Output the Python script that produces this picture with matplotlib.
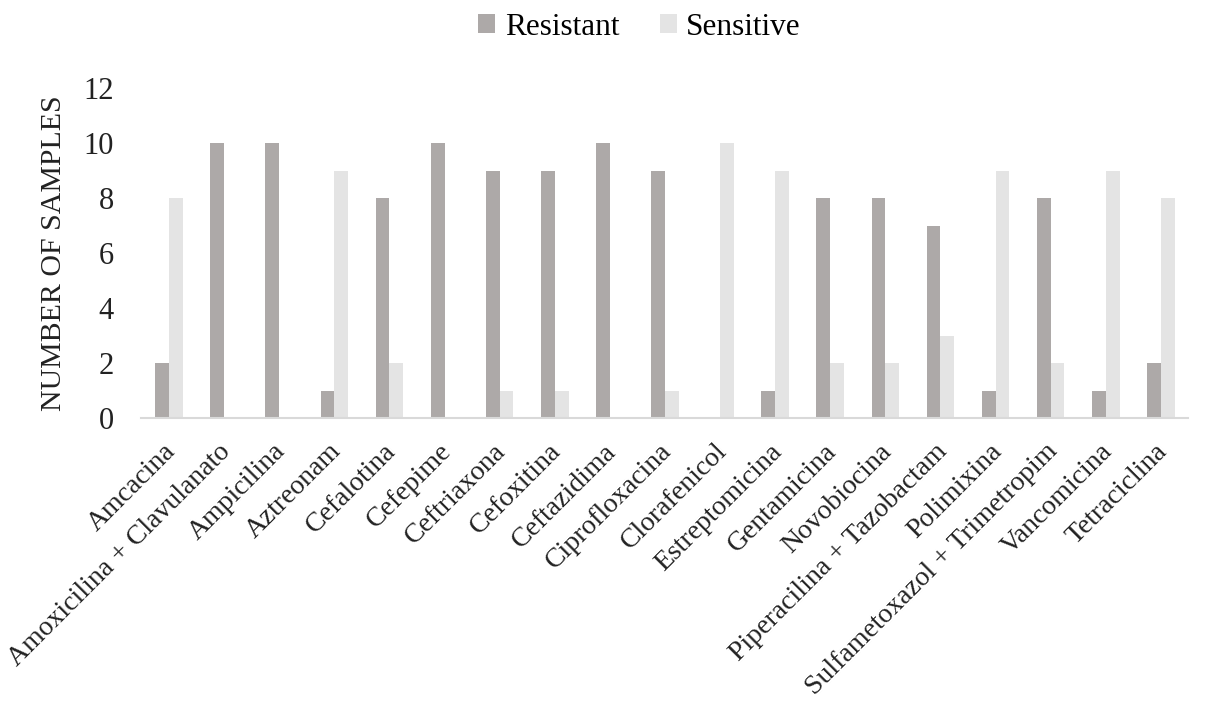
import matplotlib.pyplot as plt
import matplotlib.transforms as mtransforms
import numpy as np

plt.rcParams['font.family'] = ['Liberation Serif', 'DejaVu Serif']

antibiotics = ['Amcacina', 'Amoxicilina + Clavulanato', 'Ampicilina', 'Aztreonam',
               'Cefalotina', 'Cefepime', 'Ceftriaxona', 'Cefoxitina', 'Ceftazidima',
               'Ciprofloxacina', 'Clorafenicol', 'Estreptomicina', 'Gentamicina',
               'Novobiocina', 'Piperacilina + Tazobactam', 'Polimixina',
               'Sulfametoxazol + Trimetropim', 'Vancomicina', 'Tetraciclina']
resistant = [2, 10, 10, 1, 8, 10, 9, 9, 10, 9, 0, 1, 8, 8, 7, 1, 8, 1, 2]
sensitive = [8, 0, 0, 9, 2, 0, 1, 1, 0, 1, 10, 9, 2, 2, 3, 9, 2, 9, 8]

fig = plt.figure(figsize=(12.09, 7.05), dpi=100)
ax = fig.add_axes([0.117, 0.407, 0.866, 0.468])

x = np.arange(len(antibiotics))
w = 0.25
ax.bar(x - w / 2, resistant, w, color='#ada9a8', label='Resistant')
ax.bar(x + w / 2, sensitive, w, color='#e4e4e4', label='Sensitive')

ax.set_xlim(-0.5, len(antibiotics) - 0.5)
ax.set_ylim(0, 12)
ax.set_yticks(range(0, 13, 2))
ax.set_xticks(x)
ax.set_xticklabels(antibiotics, rotation=45, ha='right', rotation_mode='anchor')
ax.tick_params(axis='both', length=0, colors='#222222')
ax.tick_params(axis='y', pad=20, labelsize=22)
ax.tick_params(axis='x', pad=15, labelsize=20)
shift = mtransforms.ScaledTranslation(-6 / 100, 0, fig.dpi_scale_trans)
for lab in ax.get_xticklabels():
    lab.set_transform(lab.get_transform() + shift)
ax.set_ylabel('NUMBER OF SAMPLES', fontsize=21.5, color='#222222', labelpad=12)

for s in ['top', 'right', 'left']:
    ax.spines[s].set_visible(False)
ax.spines['bottom'].set_color('#d9d9d9')
ax.spines['bottom'].set_linewidth(1.5)

fig.legend(loc='upper center', bbox_to_anchor=(0.529, 1.022), ncol=2, frameon=False,
           fontsize=22.5, handlelength=0.55, handleheight=0.55, handletextpad=0.3,
           columnspacing=1.3)

fig.savefig('out.png', dpi=100)
